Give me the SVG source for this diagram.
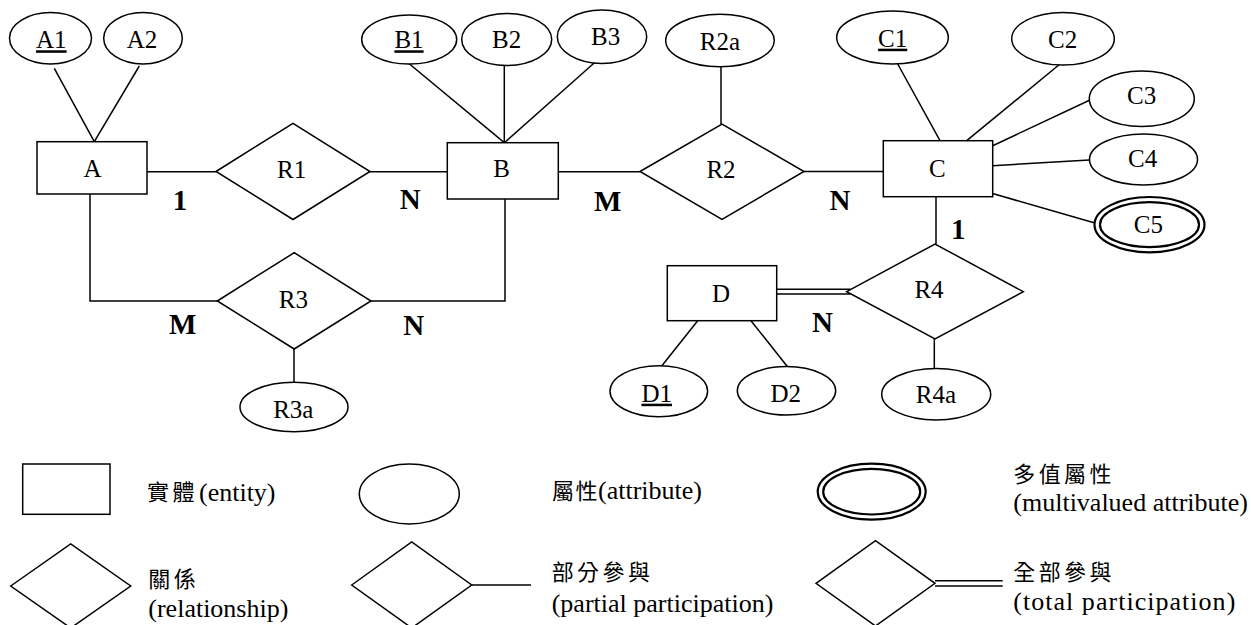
<svg xmlns="http://www.w3.org/2000/svg" width="1251" height="625" viewBox="0 0 1251 625">
<style>
.bg{fill:#fff}
.ln{fill:none;stroke:#000;stroke-width:1.5}
.nd{fill:#fff;stroke:#000;stroke-width:1.5}
.mv{fill:#fff;stroke:#000;stroke-width:2.2}
.t{font-family:"Liberation Serif","Times New Roman","DejaVu Serif",serif;font-size:25px;text-anchor:middle;fill:#000}
.k{text-decoration:underline}
.c{font-family:"Liberation Serif","Times New Roman","DejaVu Serif",serif;font-size:29px;font-weight:bold;text-anchor:middle;fill:#000}
.lg{font-family:"Liberation Serif","Times New Roman","DejaVu Serif",serif;font-size:26px;fill:#000}
.cjk{font-family:"Noto Sans CJK TC","Noto Sans CJK SC",sans-serif;font-size:22px;letter-spacing:3.4px;fill:#000}
.cjk2{font-family:"Noto Sans CJK TC","Noto Sans CJK SC",sans-serif;font-size:22px;letter-spacing:1.5px;fill:#000}
</style>
<rect class="bg" x="0" y="0" width="1251" height="625"/>

<g id="connectors">
  <line class="ln" x1="54.3" y1="68.3" x2="94.3" y2="141.7"/>
  <line class="ln" x1="139.3" y1="66" x2="94.3" y2="141.7"/>
  <line class="ln" x1="147" y1="171.7" x2="216" y2="171.7"/>
  <line class="ln" x1="370" y1="171.7" x2="447.3" y2="171.7"/>
  <line class="ln" x1="408.3" y1="63" x2="504.3" y2="142.7"/>
  <line class="ln" x1="504.3" y1="65.7" x2="504.3" y2="142.7"/>
  <line class="ln" x1="595" y1="62.3" x2="504.3" y2="142.7"/>
  <line class="ln" x1="558.3" y1="171.7" x2="640" y2="171.7"/>
  <line class="ln" x1="721" y1="66.7" x2="721" y2="124"/>
  <line class="ln" x1="804" y1="171.5" x2="883.3" y2="171.5"/>
  <line class="ln" x1="897.7" y1="64" x2="940" y2="140.7"/>
  <line class="ln" x1="1060" y1="64" x2="966.7" y2="140.7"/>
  <line class="ln" x1="1090" y1="100" x2="992.7" y2="145.7"/>
  <line class="ln" x1="992.7" y1="165.7" x2="1089.3" y2="160"/>
  <line class="ln" x1="991.7" y1="193.3" x2="1094" y2="222.7"/>
  <line class="ln" x1="936" y1="196.7" x2="936" y2="244"/>
  <line class="ln" x1="776.7" y1="289.3" x2="850.5" y2="289.3"/>
  <line class="ln" x1="776.7" y1="294" x2="850.5" y2="294"/>
  <line class="ln" x1="697.7" y1="320.7" x2="661.7" y2="366"/>
  <line class="ln" x1="751" y1="320.7" x2="787.7" y2="367"/>
  <line class="ln" x1="934.3" y1="339" x2="934.3" y2="368.3"/>
  <polyline class="ln" points="90,194 90,301 217.3,301"/>
  <polyline class="ln" points="505,199 505,301 371,301"/>
  <line class="ln" x1="294" y1="349" x2="294" y2="382.3"/>
</g>

<g id="A1"><ellipse class="nd" cx="50.5" cy="38.3" rx="41" ry="25.7"/><text class="t k" x="51.3" y="48.3">A1</text></g>
<g id="A2"><ellipse class="nd" cx="143" cy="38.3" rx="39.3" ry="25.7"/><text class="t" x="142" y="48.3">A2</text></g>
<g id="A"><rect class="nd" x="37" y="141.7" width="110" height="52.3"/><text class="t" x="92.5" y="177">A</text></g>
<g id="R1"><polygon class="nd" points="216,171.5 293,123.3 370,171.5 293,219.5"/><text class="t" x="291.7" y="178">R1</text></g>

<g id="B1"><ellipse class="nd" cx="409.2" cy="39.5" rx="47.5" ry="24.5"/><text class="t k" x="409" y="48.3">B1</text></g>
<g id="B2"><ellipse class="nd" cx="506.7" cy="39.5" rx="45" ry="26"/><text class="t" x="506.7" y="48.3">B2</text></g>
<g id="B3"><ellipse class="nd" cx="602" cy="36.7" rx="44.7" ry="26.7"/><text class="t" x="605.7" y="45">B3</text></g>
<g id="B"><rect class="nd" x="447.3" y="142.7" width="111" height="56.3"/><text class="t" x="501.7" y="176.7">B</text></g>

<g id="R2a"><ellipse class="nd" cx="720" cy="40.5" rx="54.3" ry="26.2"/><text class="t" x="720" y="50">R2a</text></g>
<g id="R2"><polygon class="nd" points="640,171.5 722,124 804,171.5 722,219.3"/><text class="t" x="721" y="178.3">R2</text></g>

<g id="C1"><ellipse class="nd" cx="892.5" cy="37.5" rx="55.8" ry="26.5"/><text class="t k" x="892.7" y="46.7">C1</text></g>
<g id="C2"><ellipse class="nd" cx="1063" cy="38.7" rx="51.3" ry="26.3"/><text class="t" x="1062.7" y="48.3">C2</text></g>
<g id="C3"><ellipse class="nd" cx="1141.8" cy="98.8" rx="52.5" ry="27.8"/><text class="t" x="1141.7" y="104">C3</text></g>
<g id="C4"><ellipse class="nd" cx="1143.5" cy="159.5" rx="54" ry="25.5"/><text class="t" x="1142.7" y="166.7">C4</text></g>
<g id="C5"><ellipse class="mv" cx="1149.5" cy="224.7" rx="55" ry="27.7"/><ellipse class="mv" cx="1149.5" cy="224.7" rx="49.5" ry="22.5"/><text class="t" x="1148.3" y="233.3">C5</text></g>
<g id="C"><rect class="nd" x="883.3" y="140.7" width="109.4" height="56"/><text class="t" x="937.3" y="176.7">C</text></g>

<g id="R4"><polygon class="nd" points="846.7,291.7 935,244 1023.3,291.7 935,339"/><text class="t" x="929" y="298.3">R4</text></g>
<g id="D"><rect class="nd" x="667.3" y="265.7" width="109.4" height="55"/><text class="t" x="721" y="301.7">D</text></g>
<g id="D1"><ellipse class="nd" cx="658.8" cy="391.2" rx="48.8" ry="25.5"/><text class="t k" x="656.7" y="401.7">D1</text></g>
<g id="D2"><ellipse class="nd" cx="786.5" cy="390.8" rx="49.2" ry="24.2"/><text class="t" x="785.7" y="401.7">D2</text></g>
<g id="R4a"><ellipse class="nd" cx="936.2" cy="394.2" rx="54.5" ry="25.8"/><text class="t" x="936" y="402.7">R4a</text></g>

<g id="R3"><polygon class="nd" points="217.3,301 294.2,252.7 371,301 294.2,349"/><text class="t" x="293.3" y="307.7">R3</text></g>
<g id="R3a"><ellipse class="nd" cx="294" cy="407" rx="54" ry="24.7"/><text class="t" x="293.3" y="418.3">R3a</text></g>

<g id="cardinalities">
  <text class="c" x="180" y="210">1</text>
  <text class="c" x="410.3" y="209">N</text>
  <text class="c" x="607.8" y="210.5">M</text>
  <text class="c" x="840" y="210">N</text>
  <text class="c" x="958.3" y="239">1</text>
  <text class="c" x="822.5" y="331.7">N</text>
  <text class="c" x="182.8" y="334">M</text>
  <text class="c" x="413.7" y="335">N</text>
</g>

<g id="legend-entity"><rect class="nd" x="22.7" y="464" width="87.3" height="50.3"/><text class="cjk" x="147" y="500">實體</text><text class="lg" x="199" y="501">(entity)</text></g>
<g id="legend-attribute"><ellipse class="nd" cx="409.3" cy="494" rx="50" ry="30"/><text class="cjk2" x="552" y="499">屬性</text><text class="lg" x="598" y="499">(attribute)</text></g>
<g id="legend-multivalued"><ellipse class="mv" cx="871.7" cy="491.7" rx="54" ry="28"/><ellipse class="mv" cx="871.7" cy="491.7" rx="48.5" ry="22.8"/><text class="cjk" x="1013.3" y="482">多值屬性</text><text class="lg" x="1013.3" y="511">(multivalued attribute)</text></g>
<g id="legend-relationship"><polygon class="nd" points="10.7,586 70.7,544 130.7,586 70.7,628"/><text class="cjk" x="148.3" y="587">關係</text><text class="lg" x="148.3" y="617">(relationship)</text></g>
<g id="legend-partial"><polygon class="nd" points="351.7,585 411.7,542 471.7,585 411.7,628"/><line class="ln" x1="471.7" y1="585" x2="531" y2="585"/><text class="cjk" x="551.7" y="580">部分參與</text><text class="lg" x="551.7" y="612">(partial participation)</text></g>
<g id="legend-total"><polygon class="nd" points="816,583.3 875.5,540.7 935,583.3 875.5,626"/><line class="ln" x1="935" y1="580.7" x2="1002.7" y2="580.7"/><line class="ln" x1="935" y1="586" x2="1002.7" y2="586"/><text class="cjk" x="1013.3" y="580">全部參與</text><text class="lg" x="1013.3" y="610" textLength="222" lengthAdjust="spacing">(total participation)</text></g>
</svg>
